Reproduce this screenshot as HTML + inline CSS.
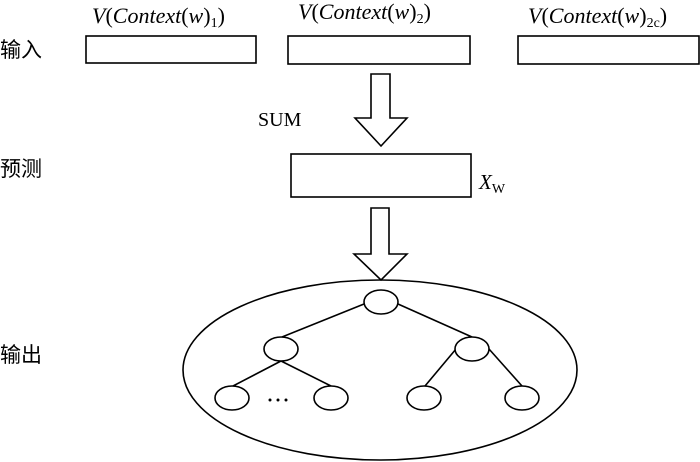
<!DOCTYPE html>
<html><head><meta charset="utf-8"><style>
body{margin:0;background:#fff;width:700px;height:462px;overflow:hidden}
svg{display:block}
.t{font-family:"Liberation Serif","Noto Serif CJK SC",serif;fill:#000}
.c{font-family:"Liberation Sans","Noto Sans CJK SC",sans-serif;font-size:21px;fill:#000}
</style></head><body>
<svg width="700" height="462" viewBox="0 0 700 462" xmlns="http://www.w3.org/2000/svg">
<g fill="none" stroke="#000" stroke-width="1.6">
<rect x="86" y="36" width="170" height="27"/>
<rect x="288" y="36" width="182" height="28"/>
<rect x="518" y="36" width="181" height="28"/>
<rect x="291" y="154" width="180" height="43"/>
<polygon points="371,74 390,74 390,118 407,118 381,146 355,118 371,118"/>
<polygon points="371,208 389,208 389,254 407,254 381,280 354,254 371,254"/>
<ellipse cx="380" cy="370" rx="197" ry="90"/>
<line x1="364" y1="304" x2="282" y2="337"/>
<line x1="398" y1="304" x2="472" y2="337"/>
<line x1="281" y1="361" x2="233" y2="386"/>
<line x1="281" y1="361" x2="331" y2="386"/>
<line x1="456" y1="349" x2="425" y2="386"/>
<line x1="489" y1="349" x2="522" y2="386"/>
<ellipse cx="381" cy="302" rx="17" ry="12" fill="#fff"/>
<ellipse cx="281" cy="349" rx="17" ry="12" fill="#fff"/>
<ellipse cx="472" cy="349" rx="17" ry="12" fill="#fff"/>
<ellipse cx="232" cy="398" rx="17" ry="12" fill="#fff"/>
<ellipse cx="331" cy="398" rx="17" ry="12" fill="#fff"/>
<ellipse cx="424" cy="398" rx="17" ry="12" fill="#fff"/>
<ellipse cx="522" cy="398" rx="17" ry="12" fill="#fff"/>
</g>
<g fill="#000"><circle cx="270" cy="400" r="1.5"/><circle cx="278" cy="400" r="1.5"/><circle cx="286" cy="400" r="1.5"/></g>
<text class="t" x="92" y="23" font-size="22" font-style="italic">V<tspan font-style="normal">(</tspan>Context<tspan font-style="normal">(</tspan>w<tspan font-style="normal">)</tspan><tspan font-style="normal" font-size="14" dy="4">1</tspan><tspan font-style="normal" dy="-4">)</tspan></text>
<text class="t" x="298" y="19" font-size="22" font-style="italic">V<tspan font-style="normal">(</tspan>Context<tspan font-style="normal">(</tspan>w<tspan font-style="normal">)</tspan><tspan font-style="normal" font-size="14" dy="4">2</tspan><tspan font-style="normal" dy="-4">)</tspan></text>
<text class="t" x="528" y="23" font-size="22" font-style="italic">V<tspan font-style="normal">(</tspan>Context<tspan font-style="normal">(</tspan>w<tspan font-style="normal">)</tspan><tspan font-style="normal" font-size="14" dy="4">2c</tspan><tspan font-style="normal" dy="-4">)</tspan></text>
<text class="t" x="258" y="126" font-size="20">SUM</text>
<text class="t" x="479" y="189" font-size="21" font-style="italic">X<tspan font-style="normal" font-size="14" dy="4">W</tspan></text>
<text class="c" x="0" y="57">输入</text>
<text class="c" x="0" y="176">预测</text>
<text class="c" x="0" y="362">输出</text>
</svg>
</body></html>
